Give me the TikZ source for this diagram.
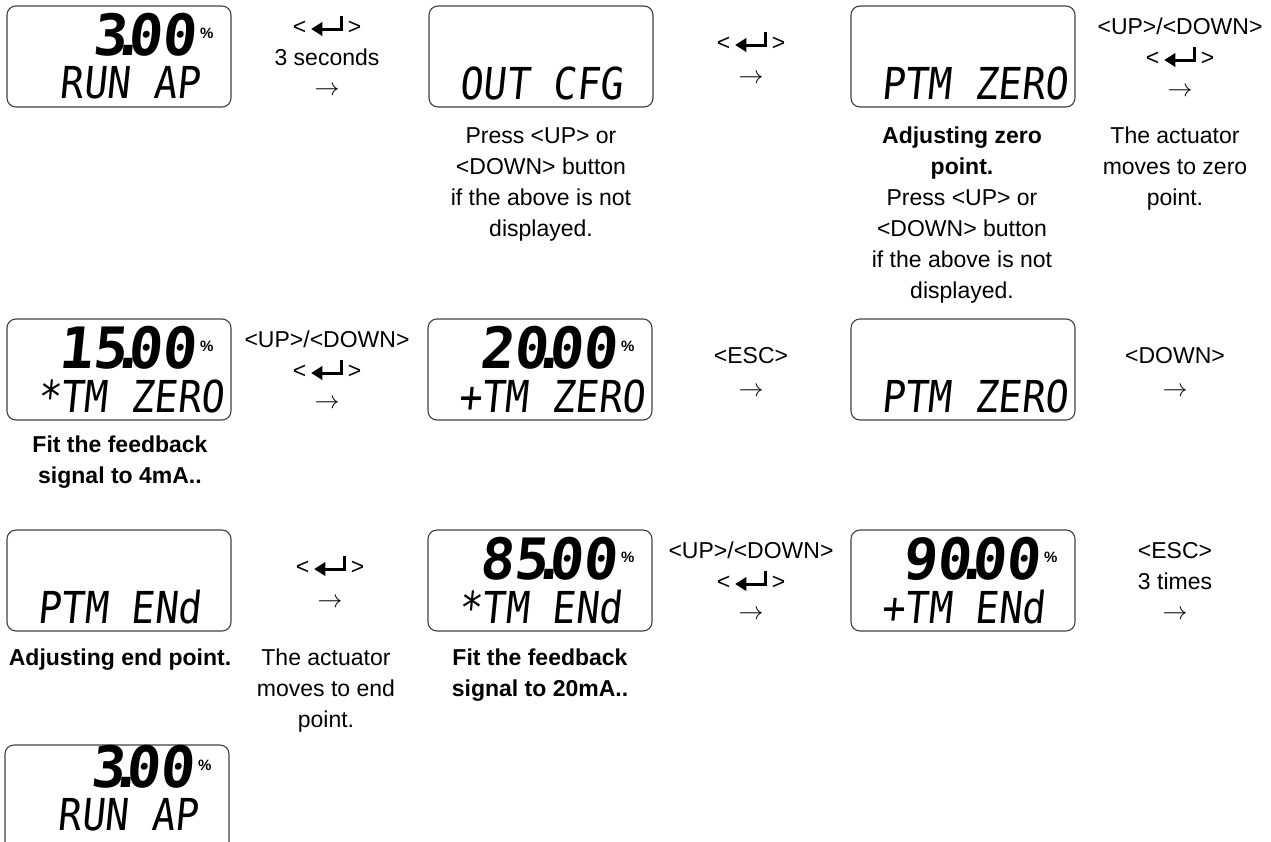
\documentclass[tikz,border=0pt]{standalone}
\usepackage{fontspec}
\setmainfont{Liberation Sans}
\newfontfamily\lcdnumfont[FakeSlant=0.1]{DejaVu Sans Mono Bold}
\newfontfamily\lcdtxtfont[FakeSlant=0.1,FakeStretch=0.88]{DejaVu Sans Mono}
\newcommand{\retsym}{\tikz[x=1pt,y=1pt,baseline=0pt]{\draw[line width=3pt] (30,18) -- (30,5) -- (9,5); \fill (0,5) -- (11,12) -- (11,-2) -- cycle;}}
\newcommand{\enterkey}{<\hspace{5pt}\retsym\hspace{5pt}>}
\newcommand{\lcddot}{\makebox[0pt]{.}}
\begin{document}
\begin{tikzpicture}[x=1pt,y=-1pt,
  box/.style={draw=black!75, line width=1.1pt, rounded corners=9pt, minimum width=224pt, minimum height=101pt, inner sep=0pt},
  num/.style={font=\lcdnumfont\fontsize{57}{57}\selectfont, inner sep=0pt, anchor=east},
  pct/.style={font=\bfseries\fontsize{15}{15}\selectfont, inner sep=0pt, anchor=west},
  lcd/.style={font=\lcdtxtfont\fontsize{44}{44}\selectfont, inner sep=0pt, anchor=east},
  key/.style={font=\fontsize{23}{27}\selectfont, inner sep=0pt, anchor=base},
  arr/.style={font=\fontsize{26}{27}\selectfont, inner sep=0pt, anchor=base},
  note/.style={font=\fontsize{23}{31}\selectfont, align=center, inner sep=0pt, anchor=north},
  bnote/.style={note, font=\bfseries\fontsize{23}{31}\selectfont}]
\useasboundingbox (0,0) rectangle (1271,841);
\clip (0,0) rectangle (1271,841);

% ---------- row 1 ----------
\node[box] (b1) at (119,56.5) {};
\node[num] (b1n) at (196,35) {3\lcddot00};
\node[pct] (b1p) at (200,33) {\%};
\node[lcd] (b1t) at (200,83) {RUN AP};

\node[box] (b2) at (541,56.5) {};
\node[lcd] (b2t) at (623,83) {OUT CFG};

\node[box] (b3) at (963,56.5) {};
\node[lcd] (b3t) at (1068,83) {PTM ZERO};

\node[key] (k1a) at (327,34) {\enterkey};
\node[key] (k1b) at (327,65) {3 seconds};
\node[arr] (k1c) at (327,95) {$\rightarrow$};

\node[key] (k2a) at (751,50) {\enterkey};
\node[arr] (k2b) at (751,83) {$\rightarrow$};

\node[key] (k3a) at (1180,34) {<UP>/<DOWN>};
\node[key] (k3b) at (1180,65) {\enterkey};
\node[arr] (k3c) at (1180,96) {$\rightarrow$};

\node[note] (n2) at (541,127) {Press <UP> or\\<DOWN> button\\if the above is not\\displayed.};
\node[note] (n3) at (962,127) {\textbf{Adjusting zero}\\\textbf{point.}\\Press <UP> or\\<DOWN> button\\if the above is not\\displayed.};
\node[note] (n3b) at (1175,127) {The actuator\\moves to zero\\point.};

% ---------- row 2 ----------
\node[box] (b4) at (119,369.5) {};
\node[num] (b4n) at (196,348) {15\lcddot00};
\node[pct] (b4p) at (200,346) {\%};
\node[lcd] (b4t) at (224,396) {*TM ZERO};

\node[box] (b5) at (540,369.5) {};
\node[num] (b5n) at (617,348) {20\lcddot00};
\node[pct] (b5p) at (621,346) {\%};
\node[lcd] (b5t) at (645,396) {+TM ZERO};

\node[box] (b6) at (963,369.5) {};
\node[lcd] (b6t) at (1068,396) {PTM ZERO};

\node[key] (k4a) at (327,347) {<UP>/<DOWN>};
\node[key] (k4b) at (327,378) {\enterkey};
\node[arr] (k4c) at (327,408) {$\rightarrow$};

\node[key] (k5a) at (751,363) {<ESC>};
\node[arr] (k5b) at (751,396) {$\rightarrow$};

\node[key] (k6a) at (1175,363) {<DOWN>};
\node[arr] (k6b) at (1175,396) {$\rightarrow$};

\node[bnote] (n4) at (120,436) {Fit the feedback\\signal to 4mA..};

% ---------- row 3 ----------
\node[box] (b7) at (119,580.5) {};
\node[lcd] (b7t) at (201,607) {PTM ENd};

\node[box] (b8) at (540,580.5) {};
\node[num] (b8n) at (617,559) {85\lcddot00};
\node[pct] (b8p) at (621,557) {\%};
\node[lcd] (b8t) at (622,607) {*TM ENd};

\node[box] (b9) at (963,580.5) {};
\node[num] (b9n) at (1040,559) {90\lcddot00};
\node[pct] (b9p) at (1044,557) {\%};
\node[lcd] (b9t) at (1045,607) {+TM ENd};

\node[key] (k7a) at (330,574) {\enterkey};
\node[arr] (k7b) at (330,607) {$\rightarrow$};

\node[key] (k8a) at (751,558) {<UP>/<DOWN>};
\node[key] (k8b) at (751,589) {\enterkey};
\node[arr] (k8c) at (751,619) {$\rightarrow$};

\node[key] (k9a) at (1175,558) {<ESC>};
\node[key] (k9b) at (1175,589) {3 times};
\node[arr] (k9c) at (1175,619) {$\rightarrow$};

\node[bnote] (n7) at (120,649) {Adjusting end point.};
\node[note] (n7b) at (326,649) {The actuator\\moves to end\\point.};
\node[bnote] (n8) at (540,649) {Fit the feedback\\signal to 20mA..};

% ---------- row 4 ----------
\node[box, minimum height=110pt] (b10) at (117,800) {};
\node[num] (b10n) at (194,767) {3\lcddot00};
\node[pct] (b10p) at (198,765) {\%};
\node[lcd] (b10t) at (198,815) {RUN AP};
\end{tikzpicture}
\end{document}
